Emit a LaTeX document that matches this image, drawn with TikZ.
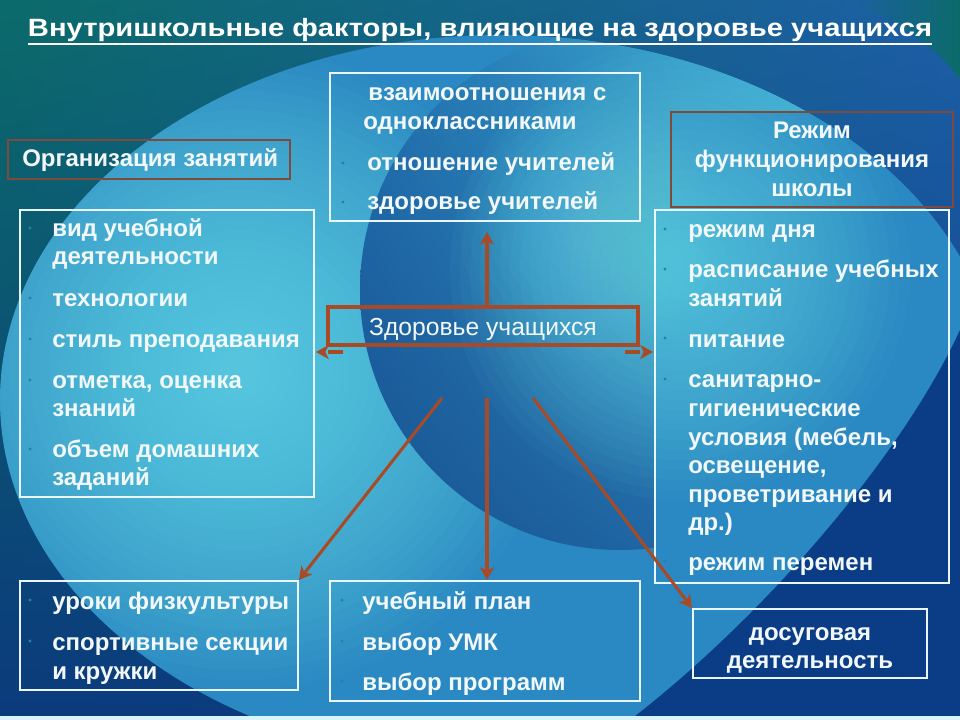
\documentclass[tikz,border=0pt]{standalone}
\usepackage{fontspec}
\setmainfont{Liberation Sans}
\usetikzlibrary{arrows.meta,shadings}
\definecolor{cTeal}{HTML}{0B6B6A}
\definecolor{cTopR}{HTML}{1D5FA6}
\definecolor{cNavy}{HTML}{0A3D86}
\definecolor{cNavyL}{HTML}{0B3A7C}
\definecolor{cMid}{HTML}{2A88C2}
\definecolor{cGlow}{HTML}{7AF2F8}
\definecolor{cDarkA}{HTML}{17508F}
\definecolor{cDarkB}{HTML}{2170B0}
\definecolor{cDarkC}{HTML}{46BEDC}
\definecolor{cDarkD}{HTML}{2577B4}
\definecolor{arrc}{HTML}{A84A26}
\definecolor{brownb}{HTML}{7E4A3C}
\definecolor{boxw}{HTML}{EAF6FA}
\definecolor{txtc}{HTML}{F2F8FA}
\definecolor{bulc}{HTML}{2580AC}
\begin{document}
\begin{tikzpicture}[x=0.75pt,y=-0.75pt,
  wbox/.style={draw=boxw, line width=1.5pt, inner sep=0pt},
  bbox/.style={draw=brownb, line width=1.5pt, inner sep=0pt},
  cbox/.style={draw=arrc, line width=3pt, inner sep=0pt},
  txt/.style={anchor=base west, inner sep=0pt, text=txtc, font=\fontsize{18}{21}\selectfont\bfseries},
  ctxt/.style={anchor=base, inner sep=0pt, text=txtc, font=\fontsize{18}{21}\selectfont\bfseries},
  arr/.style={draw=arrc, line width=2.3pt, -{Stealth[length=9.5pt,width=10.5pt,inset=2.5pt]}},
  bul/.style={fill=bulc},
]
\useasboundingbox (0,0) rectangle (960,720);
% ---------- background ----------
\shade[upper left=cTeal, upper right=cTopR, lower left=cNavyL, lower right=cNavy] (0,0) rectangle (960,720);
\shade[left color=cTopR, right color=cTeal] (840,0) .. controls (900,20) and (940,50) .. (960,80) -- (960,0) -- cycle;
\begin{scope}
  \clip (500,400) ellipse [x radius=375pt, y radius=273.75pt];
  \fill[cMid] (0,0) rectangle (960,720);
  \foreach \r in {320,310,...,20}
    \fill[cGlow, opacity=0.035] (240,370) circle [radius={\r*0.75pt}];
  \begin{scope}
    \clip (0,0) -- (960,0) -- (960,112) -- (671,112) -- (671,210) -- (655,210) -- (655,720) -- (0,720) -- cycle;
    \shade[upper left=cDarkB, upper right=cDarkC, lower left=cDarkA, lower right=cDarkD] (620,290) circle [radius=195pt];
  \end{scope}
  \foreach \r in {230,220,...,20}
    \fill[cGlow, opacity=0.035] (680,270) circle [radius={\r*0.75pt}];
  \foreach \r in {130,120,...,20}
    \fill[cGlow, opacity=0.025] (590,230) circle [radius={\r*0.75pt}];
\end{scope}
\fill[cNavy] (960,330) .. controls (900,460) and (760,620) .. (630,720) -- (960,720) -- cycle;
\fill[white!85!cyan] (0,716) rectangle (960,720);
% ---------- title ----------
\node[anchor=base, inner sep=0pt, text=white, font=\fontsize{17}{19}\selectfont\bfseries] (title) at (480,37)
  {\resizebox{678pt}{13.6pt}{Внутришкольные факторы, влияющие на здоровье учащихся}};
\draw[white, line width=1.6pt] ([yshift=-5pt]title.base west) -- ([yshift=-5pt]title.base east);
% ---------- boxes ----------
\node[bbox, minimum width=211.5pt, minimum height=29.25pt] (orgT) at (149,159.5) {};
\node[wbox, minimum width=220.5pt, minimum height=215.25pt] (leftL) at (167,353.5) {};
\node[wbox, minimum width=232.5pt, minimum height=111pt] (topC) at (485,147) {};
\node[bbox, minimum width=211.5pt, minimum height=71.25pt] (rightT) at (812,159.5) {};
\node[wbox, minimum width=220.5pt, minimum height=279.75pt] (rightL) at (802,396.5) {};
\node[cbox, minimum width=232.5pt, minimum height=28.5pt] (center) at (483,326) {};
\node[wbox, minimum width=208.5pt, minimum height=81.75pt] (botL) at (159,635.5) {};
\node[wbox, minimum width=232.5pt, minimum height=90pt] (botC) at (485,641) {};
\node[wbox, minimum width=175.5pt, minimum height=51.75pt] (botR) at (810,643.5) {};
% ---------- texts ----------
\node[txt] (orgTt) at (22,167) {Организация занятий};
\node[anchor=base, inner sep=0pt, text=txtc, font=\fontsize{18.5}{21}\selectfont] (centert) at (483,335) {Здоровье учащихся};
\node[ctxt] (rT1) at (812,139) {Режим};
\node[ctxt] (rT2) at (812,168) {функционирования};
\node[ctxt] (rT3) at (812,197) {школы};
\node[ctxt] (bR1) at (810,640) {досуговая};
\node[ctxt] (bR2) at (810,668) {деятельность};
% left list
\node[txt] (l1) at (52,237) {вид учебной};
\node[txt] (l2) at (52,265) {деятельности};
\node[txt] (l3) at (52,306) {технологии};
\node[txt] (l4) at (52,347) {стиль преподавания};
\node[txt] (l5) at (52,388) {отметка, оценка};
\node[txt] (l6) at (52,416) {знаний};
\node[txt] (l7) at (52,457) {объем домашних};
\node[txt] (l8) at (52,485) {заданий};
\foreach \y in {228,298,339,380,449} \fill[bul] (30,\y) circle [radius=1.3pt];
% top centre list
\node[txt] (t1) at (368,101) {взаимоотношения с};
\node[txt] (t2) at (363,130) {одноклассниками};
\node[txt] (t3) at (367,171) {отношение учителей};
\node[txt] (t4) at (367,210) {здоровье учителей};
\foreach \y in {163,202} \fill[bul] (343,\y) circle [radius=1.3pt];
% right list
\node[txt] (r1) at (688,238) {режим дня};
\node[txt] (r2) at (688,278) {расписание учебных};
\node[txt] (r3) at (688,306) {занятий};
\node[txt] (r4) at (688,347) {питание};
\node[txt] (r5) at (688,387) {санитарно-};
\node[txt] (r6) at (688,416) {гигиенические};
\node[txt] (r7) at (688,445) {условия (мебель,};
\node[txt] (r8) at (688,473) {освещение,};
\node[txt] (r9) at (688,502) {проветривание и};
\node[txt] (r10) at (688,530) {др.)};
\node[txt] (r11) at (688,570) {режим перемен};
\foreach \y in {229,269,338,379,561} \fill[bul] (665,\y) circle [radius=1.3pt];
% bottom left list
\node[txt] (b1) at (52,609) {уроки физкультуры};
\node[txt] (b2) at (52,650) {спортивные секции};
\node[txt] (b3) at (52,679) {и кружки};
\foreach \y in {600,641} \fill[bul] (30,\y) circle [radius=1.3pt];
% bottom centre list
\node[txt] (c1) at (362,609) {учебный план};
\node[txt] (c2) at (362,650) {выбор УМК};
\node[txt] (c3) at (362,690) {выбор программ};
\foreach \y in {600,641,681} \fill[bul] (342,\y) circle [radius=1.3pt];
% ---------- connectors ----------
\coordinate (upT) at (487,232);
\coordinate (lS) at (343,352);
\coordinate (lT) at (316,352);
\coordinate (rS) at (625,352);
\coordinate (rT) at (653,352);
\coordinate (s1) at (442,398);
\coordinate (s2) at (487,398);
\coordinate (s3) at (533,398);
\draw[arr] (center.north -| upT) -- (upT);
\draw[arr, dash pattern=on 11pt off 40pt] (lS) -- (lT);
\draw[arr, dash pattern=on 11pt off 40pt] (rS) -- (rT);
\draw[arr] (s1) -- (botL.north east);
\draw[arr] (s2) -- (s2 |- botC.north);
\draw[arr] (s3) -- (botR.north west);
\end{tikzpicture}
\end{document}
